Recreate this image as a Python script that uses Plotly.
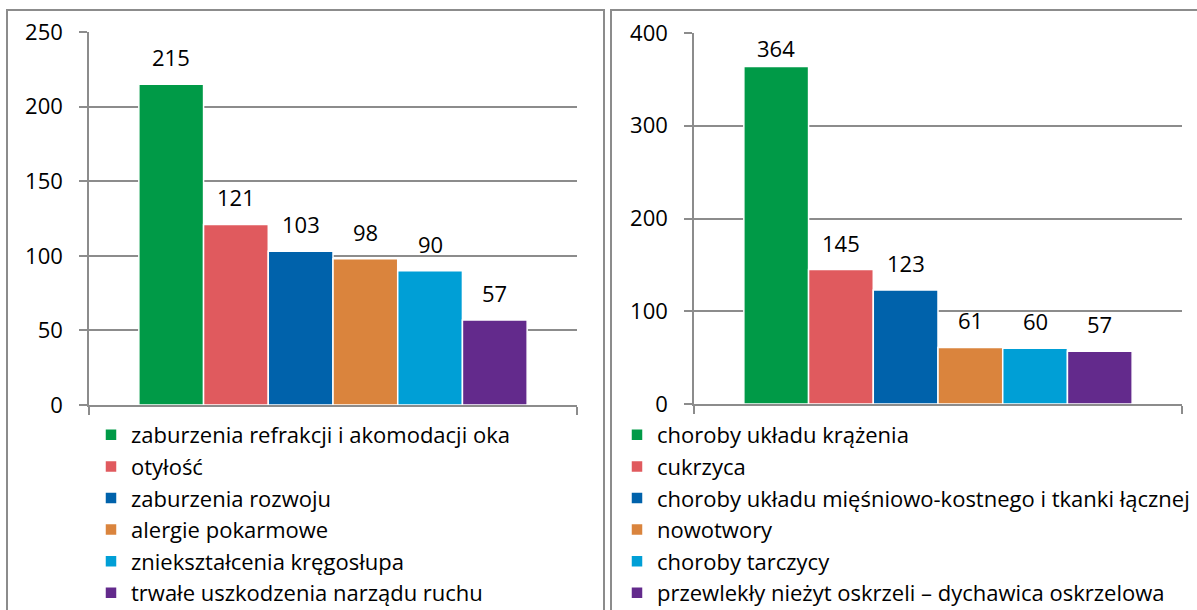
import plotly.graph_objects as go

W, H = 1197, 610

left_names = ["zaburzenia refrakcji i akomodacji oka", "otyłość", "zaburzenia rozwoju",
              "alergie pokarmowe", "zniekształcenia kręgosłupa", "trwałe uszkodzenia narządu ruchu"]
left_values = [215, 121, 103, 98, 90, 57]

right_names = ["choroby układu krążenia", "cukrzyca", "choroby układu mięśniowo-kostnego i tkanki łącznej",
               "nowotwory", "choroby tarczycy", "przewlekły nieżyt oskrzeli – dychawica oskrzelowa"]
right_values = [364, 145, 123, 61, 60, 57]

colors = ["#009A47", "#E05A5E", "#0062AB", "#DA843D", "#009FD6", "#632A8C"]

FONT = "Open Sans"
FS = 22

def px(x):
    return x / W

def py(y):
    return 1 - y / H

# panel geometry (pixels)
L_X0, L_X1, L_Y0, L_Y1 = 89, 577, 405, 32
R_X0, R_X1, R_Y0, R_Y1 = 694, 1182, 404, 33
L_MAX, R_MAX = 250, 400
XR = [-1.27, 6.27]

fig = go.Figure()
annotations = []

def add_panel(names, values, xa, ya, lg, ymax, plot_px):
    upp = ymax / plot_px  # data units per pixel
    for i, (n, v) in enumerate(zip(names, values)):
        fig.add_trace(go.Bar(
            x=[i], y=[v], width=[1], name=n,
            marker=dict(color=colors[i], line=dict(color="white", width=1.5)),
            xaxis=xa, yaxis=ya, legend=lg, legendgroup=lg + str(i), hoverinfo="name+y",
        ))
        ylab = min(v + 27 * upp, ymax - 15 * upp)
        annotations.append(dict(x=i, y=ylab, xref=xa, yref=ya, text=str(v), showarrow=False,
                                yanchor="middle", xanchor="center",
                                font=dict(family=FONT, size=FS, color="black")))

add_panel(left_names, left_values, "x", "y", "legend", L_MAX, L_Y0 - L_Y1)
add_panel(right_names, right_values, "x2", "y2", "legend2", R_MAX, R_Y0 - R_Y1)

AX = "#8C8C8C"
xcommon = dict(range=XR, tickvals=XR, ticks="outside", ticklen=8, tickcolor=AX,
               tickwidth=1.5, showticklabels=False, showline=True, linecolor=AX, linewidth=1.5,
               showgrid=False, zeroline=False, fixedrange=True)
ycommon = dict(ticks="outside", ticklen=8, tickcolor=AX, tickwidth=1.5, showline=True, linecolor=AX,
               linewidth=1.5, showgrid=True, gridcolor=AX, gridwidth=1.5, zeroline=False,
               tickfont=dict(family=FONT, size=FS, color="black"), ticklabelstandoff=12,
               automargin=False)

legcommon = dict(xanchor="left", yanchor="top", bgcolor="rgba(0,0,0,0)",
                 xref="container", yref="container",
                 font=dict(family=FONT, size=FS, color="black"), tracegroupgap=0, itemwidth=30,
                 traceorder="grouped")

fig.update_layout(
    width=W, height=H, margin=dict(l=0, r=0, t=0, b=0, autoexpand=False),
    paper_bgcolor="white", plot_bgcolor="white",
    barmode="overlay",
    font=dict(family=FONT, size=FS, color="black"),
    xaxis=dict(domain=[px(L_X0), px(L_X1)], anchor="y", automargin=False, **xcommon),
    yaxis=dict(domain=[py(L_Y0), py(L_Y1)], anchor="x", range=[0, L_MAX], dtick=50, **ycommon),
    xaxis2=dict(domain=[px(R_X0), px(R_X1)], anchor="y2", automargin=False, **xcommon),
    yaxis2=dict(domain=[py(R_Y0), py(R_Y1)], anchor="x2", range=[0, R_MAX], dtick=100, **ycommon),
    legend=dict(x=px(91), y=py(414), **legcommon),
    legend2=dict(x=px(617), y=py(414), **legcommon),
    showlegend=True,
    annotations=annotations,
)

BORDER = "#8C8C8C"
fig.add_shape(type="rect", xref="paper", yref="paper", x0=px(7), x1=px(604), y0=-0.05, y1=py(10),
              line=dict(color=BORDER, width=2), layer="below")
fig.add_shape(type="rect", xref="paper", yref="paper", x0=px(611), x1=1.05, y0=-0.05, y1=py(10),
              line=dict(color=BORDER, width=2), layer="below")

fig.write_html("out.html", config={"displayModeBar": False},
               post_script="document.body.style.margin='0';document.body.style.padding='0';"
                           "document.documentElement.style.overflow='hidden';")
